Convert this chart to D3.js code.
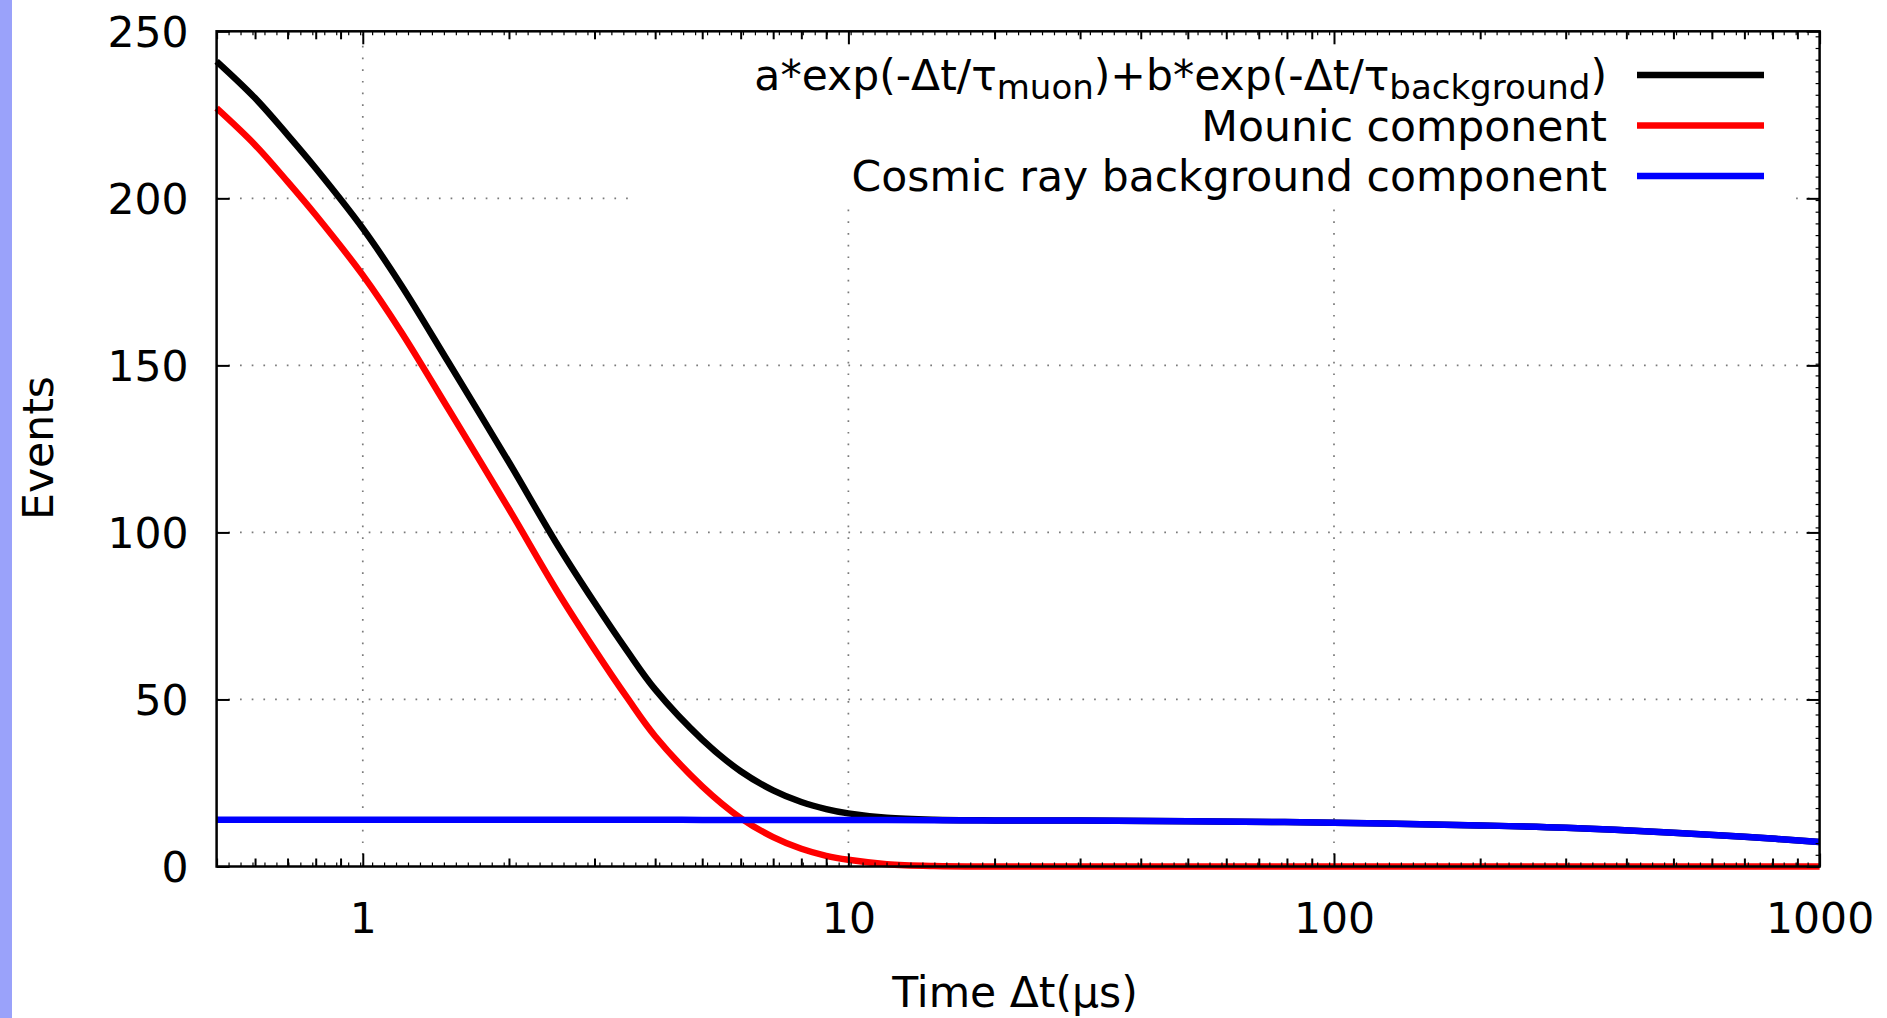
<!DOCTYPE html>
<html><head><meta charset="utf-8">
<script src="https://cdn.jsdelivr.net/npm/d3@7"></script>
<style>
body{margin:0;background:#fff;}
svg{display:block;font-family:"DejaVu Sans",sans-serif;}
</style>
</head><body>
<svg id="chart" width="1887" height="1018"></svg>
<script>
// ---- data ----
const timeValues       = [0.5, 0.6, 0.7, 0.8, 1, 1.2, 1.5, 2, 2.5, 3, 3.5, 4, 5, 6, 7, 8, 9, 10, 12, 15, 20, 30, 50, 100, 200, 300, 500, 700, 1000];
const totalCounts      = [241, 230, 219, 209, 191, 174, 151, 121, 97, 79, 64.6, 53, 38, 28.5, 22.8, 19.3, 17.2, 15.9, 14.6, 14.0, 13.8, 13.75, 13.55, 13.12, 12.3, 11.6, 10.1, 8.9, 7.35];
const muonCounts       = [227, 216, 205, 195, 177, 160, 137, 107, 83, 65, 50.6, 39, 24, 14.5, 8.8, 5.3, 3.2, 2.0, 0.7, 0.16, 0.01, 0, 0, 0, 0, 0, 0, 0, 0];
const backgroundCounts = [14.0, 14.0, 14.0, 14.0, 14.0, 14.0, 14.0, 14.0, 14.0, 14.0, 14.0, 14.0, 13.95, 13.95, 13.95, 13.95, 13.95, 13.9, 13.9, 13.85, 13.8, 13.75, 13.55, 13.12, 12.3, 11.6, 10.1, 8.9, 7.35];
const seriesColors     = ["#000000", "#ff0000", "#0000ff"];
const xMajorTicks      = [1, 10, 100, 1000];
const yTicks           = [0, 50, 100, 150, 200, 250];
const xDomain          = [0.5, 1000];
const yDomain          = [0, 250];

// ---- layout ----
const svg = d3.select("#chart");
const L = 216.6, R = 1819.6, T = 31.3, B = 866.5;
const FS = 42.5;
const x = d3.scaleLog().domain(xDomain).range([L, R]);
const y = d3.scaleLinear().domain(yDomain).range([B, T]);

// left purple strip
svg.append("rect").attr("x", 0).attr("y", 0).attr("width", 12).attr("height", 1018).attr("fill", "#9aa2fa");

// grid
const grid = svg.append("g").attr("stroke", "#7a7a7a").attr("stroke-width", 1.7).attr("stroke-dasharray", "1.7,10");
grid.selectAll("line.gx").data(xMajorTicks.filter(d => d < 1000)).enter().append("line")
  .attr("x1", d => x(d)).attr("x2", d => x(d)).attr("y1", B).attr("y2", T);
grid.selectAll("line.gy").data(yTicks.filter(d => d > 0 && d < 250)).enter().append("line")
  .attr("y1", d => y(d)).attr("y2", d => y(d)).attr("x1", L).attr("x2", R);

// opaque key box
svg.append("rect").attr("x", 628).attr("y", T).attr("width", 1164).attr("height", 170).attr("fill", "#fff");

// curves
const series = [
  {name: "total", values: totalCounts, color: seriesColors[0]},
  {name: "muon", values: muonCounts, color: seriesColors[1]},
  {name: "bg", values: backgroundCounts, color: seriesColors[2]}
];
const line = d3.line().x(d => x(d[0])).y(d => y(d[1])).curve(d3.curveCatmullRom.alpha(0.5));
series.forEach(s => {
  svg.append("path")
    .datum(timeValues.map((t, i) => [t, s.values[i]]))
    .attr("d", line).attr("fill", "none").attr("stroke", s.color)
    .attr("stroke-width", 6.5).attr("stroke-linejoin", "round");
});

// axes
const minorX = x.ticks().filter(t => !xMajorTicks.includes(t));
function tickStyle(g){ g.select(".domain").remove(); g.selectAll("line").attr("stroke", "#000").attr("stroke-width", 2); }

const gxb = svg.append("g").attr("transform", `translate(0,${B})`)
  .call(d3.axisBottom(x).tickValues(xMajorTicks).tickSizeInner(-13).tickSizeOuter(0).tickPadding(0).tickFormat(d3.format("d")));
tickStyle(gxb);
gxb.selectAll("text").attr("font-size", FS).attr("fill", "#000").attr("font-family", "DejaVu Sans")
  .attr("dy", null).attr("y", 66);
const gxbm = svg.append("g").attr("transform", `translate(0,${B})`)
  .call(d3.axisBottom(x).tickValues(minorX).tickSizeInner(-8).tickSizeOuter(0).tickFormat(""));
tickStyle(gxbm);
const gxt = svg.append("g").attr("transform", `translate(0,${T})`)
  .call(d3.axisTop(x).tickValues(xMajorTicks).tickSizeInner(-13).tickSizeOuter(0).tickFormat(""));
tickStyle(gxt);
const gxtm = svg.append("g").attr("transform", `translate(0,${T})`)
  .call(d3.axisTop(x).tickValues(minorX).tickSizeInner(-8).tickSizeOuter(0).tickFormat(""));
tickStyle(gxtm);

// tiny fine ticks (x2 / y2 style)
const xFine = d3.scaleLinear().domain([0, 134]).range([L, R]);
const yFine = d3.scaleLinear().domain([0, 250]).range([B, T]);
[B, T].forEach(py => {
  const g = svg.append("g").attr("transform", `translate(0,${py})`)
    .call((py === B ? d3.axisBottom(xFine) : d3.axisTop(xFine)).tickValues(d3.range(0, 135, 1)).tickSizeInner(-4).tickSizeOuter(0).tickFormat(""));
  g.select(".domain").remove();
  g.selectAll("line").attr("stroke", "#000").attr("stroke-width", 1.2);
});
const gyf = svg.append("g").attr("transform", `translate(${R},0)`)
  .call(d3.axisRight(yFine).tickValues(d3.range(0, 250, 3.5)).tickSizeInner(-4).tickSizeOuter(0).tickFormat(""));
gyf.select(".domain").remove();
gyf.selectAll("line").attr("stroke", "#000").attr("stroke-width", 1.2);

// left y axis
const gyl = svg.append("g").attr("transform", `translate(${L},0)`)
  .call(d3.axisLeft(y).tickValues(yTicks).tickSizeInner(-13).tickSizeOuter(0).tickPadding(0).tickFormat(d3.format("d")));
tickStyle(gyl);
gyl.selectAll("text").attr("font-size", FS).attr("fill", "#000").attr("font-family", "DejaVu Sans")
  .attr("x", -28).attr("dy", "0.36em");
const gyr = svg.append("g").attr("transform", `translate(${R},0)`)
  .call(d3.axisRight(y).tickValues(yTicks).tickSizeInner(-13).tickSizeOuter(0).tickFormat(""));
tickStyle(gyr);

// border
svg.append("rect").attr("x", L).attr("y", T).attr("width", R - L).attr("height", B - T)
  .attr("fill", "none").attr("stroke", "#000").attr("stroke-width", 2.5);

// axis titles
svg.append("text").attr("x", 1015).attr("y", 1007).attr("text-anchor", "middle")
  .attr("font-size", FS).attr("fill", "#000").text("Time Δt(μs)");
svg.append("text").attr("transform", "translate(38,448) rotate(-90)").attr("text-anchor", "middle")
  .attr("dy", "0.36em").attr("font-size", FS).attr("fill", "#000").text("Events");

// legend
const legendRows = [
  {parts: [["a*exp(-Δt/τ", 0], ["muon", 1], [")+b*exp(-Δt/τ", 0], ["background", 1], [")", 0]], color: seriesColors[0]},
  {parts: [["Mounic component", 0]], color: seriesColors[1]},
  {parts: [["Cosmic ray background component", 0]], color: seriesColors[2]}
];
const legY = d3.scalePoint().domain(d3.range(legendRows.length)).range([75, 176]);
legendRows.forEach((row, i) => {
  const yy = legY(i);
  const txt = svg.append("text").attr("x", 1607).attr("y", yy).attr("dy", "0.36em")
    .attr("text-anchor", "end").attr("font-size", FS).attr("fill", "#000");
  let shifted = false;
  row.parts.forEach(([s, sub]) => {
    const ts = txt.append("tspan").text(s);
    if (sub && !shifted) { ts.attr("font-size", 34).attr("dy", 9); shifted = true; }
    else if (!sub && shifted) { ts.attr("dy", -9); shifted = false; }
  });
  svg.append("line").attr("x1", 1637).attr("x2", 1764).attr("y1", yy).attr("y2", yy)
    .attr("stroke", row.color).attr("stroke-width", 6.5);
});
</script>
</body></html>
